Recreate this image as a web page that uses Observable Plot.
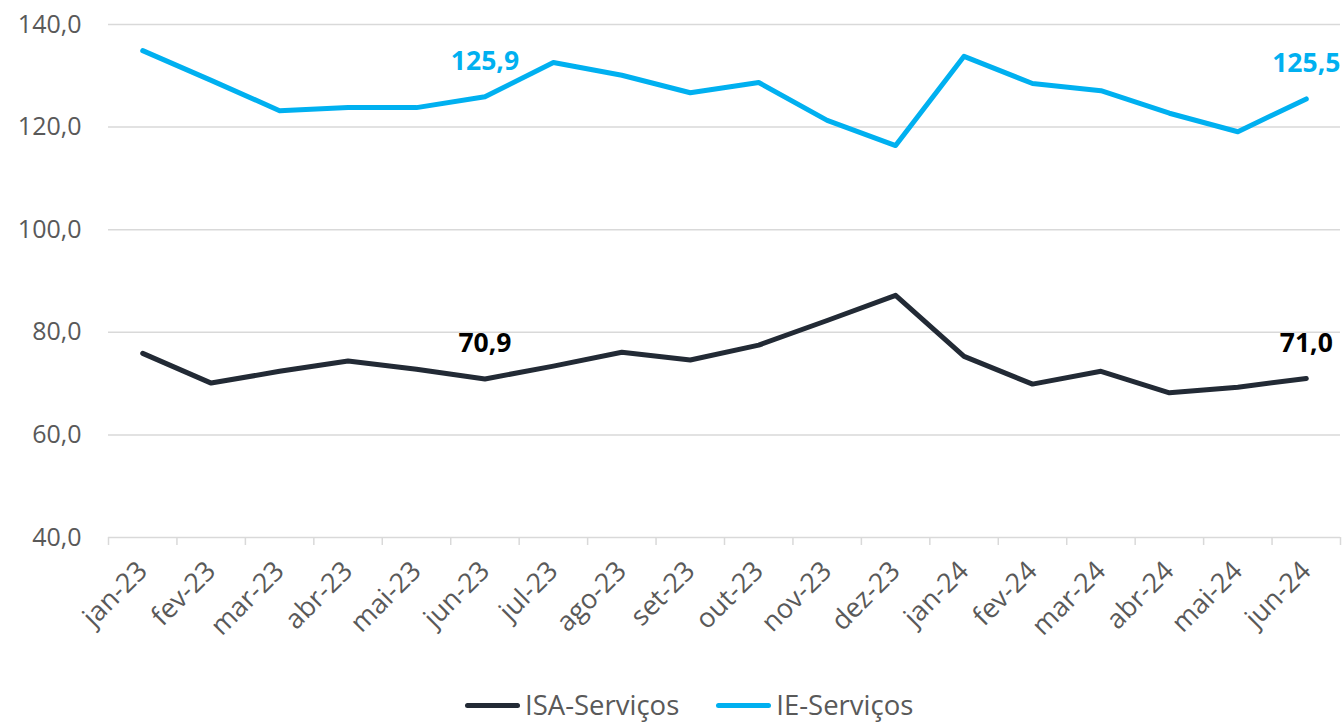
<!DOCTYPE html>
<html><head><meta charset="utf-8">
<script src="https://cdn.jsdelivr.net/npm/d3@7"></script>
<script src="https://cdn.jsdelivr.net/npm/@observablehq/plot@0.6"></script>
<style>
body{margin:0;background:#fff;font-family:"Open Sans",sans-serif}
#wrap{position:relative;width:1342px;height:722px}
#legend{position:absolute;left:465px;top:687px;display:flex;align-items:center;font-size:27.5px;color:#595959;line-height:36px}
.item{display:flex;align-items:center;margin-right:37px}
.sw{width:55px;height:5px;border-radius:3px;margin-right:5px}
</style>
</head><body><div id="wrap"><div id="chart"></div><div id="legend"></div></div>
<script>
const months = ["jan-23","fev-23","mar-23","abr-23","mai-23","jun-23","jul-23","ago-23","set-23","out-23","nov-23","dez-23","jan-24","fev-24","mar-24","abr-24","mai-24","jun-24"];
const isaServicos = [75.9,70.1,72.4,74.4,72.8,70.9,73.4,76.1,74.6,77.5,82.3,87.2,75.3,69.9,72.4,68.2,69.3,71.0];
const ieServicos = [134.9,129.1,123.2,123.8,123.8,125.9,132.6,130.1,126.7,128.7,121.3,116.4,133.8,128.5,127.1,122.7,119.1,125.5];
const yTicks = [40,60,80,100,120,140];
const labelMonths = ["jun-23","jun-24"];
const seriesNames = ["ISA-Serviços","IE-Serviços"];
const seriesColors = ["#222a35","#00b0f0"];

const fmt = v => v.toFixed(1).replace(".", ",");
const rows = months.map((m, i) => ({i, month: m, isa: isaServicos[i], ie: ieServicos[i]}));
const labelRows = rows.filter(d => labelMonths.includes(d.month));
const idx = d3.range(months.length);
const bounds = d3.range(months.length + 1).map(i => i - 0.5);

const chart = Plot.plot({
  width: 1342, height: 680,
  marginTop: 24, marginBottom: 143, marginLeft: 108, marginRight: 2,
  style: {fontFamily: "Open Sans, sans-serif", background: "#fff"},
  x: {type: "linear", domain: [-0.5, months.length - 0.5]},
  y: {domain: [40, 140]},
  marks: [
    Plot.gridY(yTicks, {stroke: "#d9d9d9", strokeOpacity: 1, strokeWidth: 1.5}),
    Plot.axisY(yTicks, {tickSize: 0, tickPadding: 27, tickFormat: fmt, fontSize: 25, fill: "#595959", label: null}),
    Plot.axisX(bounds, {tickSize: 8, stroke: "#d9d9d9", strokeWidth: 1.5, tickFormat: () => "", label: null}),
    Plot.axisX(idx, {tickSize: 0, tickPadding: 14, tickRotate: -45, dx: 0, dy: 15, tickFormat: i => months[i], fontSize: 27, fill: "#595959", label: null}),
    Plot.line(rows, {x: "i", y: "isa", stroke: seriesColors[0], strokeWidth: 5, strokeLinejoin: "round", strokeLinecap: "round"}),
    Plot.line(rows, {x: "i", y: "ie", stroke: seriesColors[1], strokeWidth: 5, strokeLinejoin: "round", strokeLinecap: "round"}),
    Plot.text(labelRows, {x: "i", y: "isa", text: d => fmt(d.isa), dy: -35, fontWeight: "bold", fontSize: 26.5, fill: "#000"}),
    Plot.text(labelRows, {x: "i", y: "ie", text: d => fmt(d.ie), dy: -35, fontWeight: "bold", fontSize: 26.5, fill: seriesColors[1]})
  ]
});
document.getElementById("chart").appendChild(chart);

const legend = document.getElementById("legend");
seriesNames.forEach((n, k) => {
  const it = document.createElement("div");
  it.className = "item";
  it.innerHTML = `<span class="sw" style="background:${seriesColors[k]}"></span><span>${n}</span>`;
  legend.appendChild(it);
});
</script>
</body></html>
